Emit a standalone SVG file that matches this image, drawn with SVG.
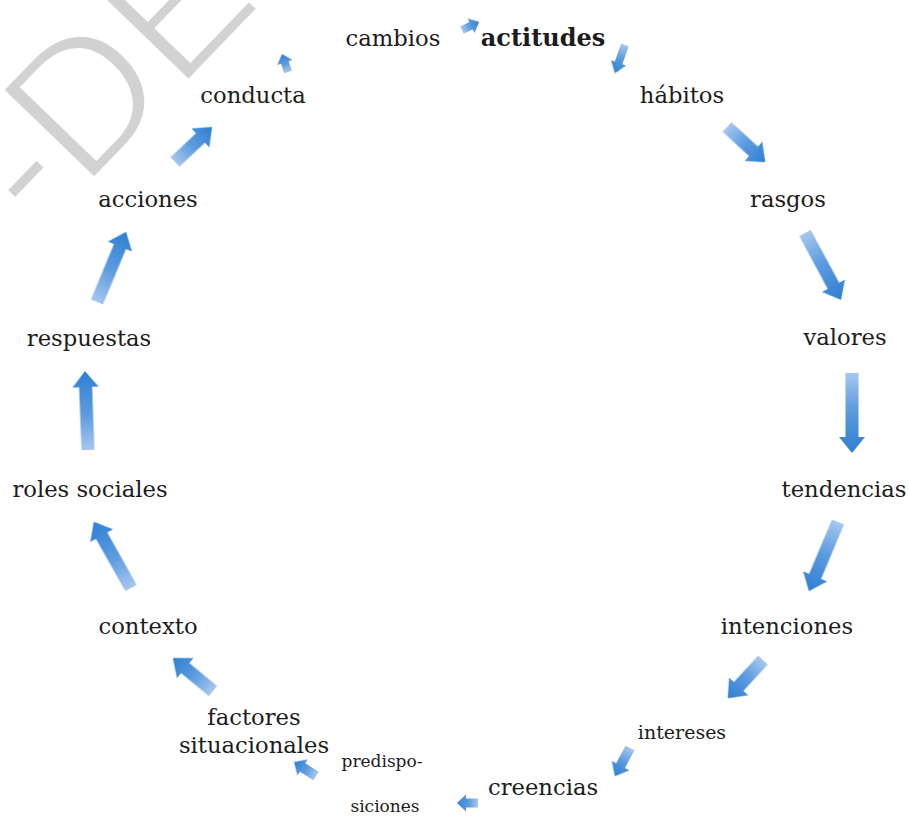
<svg xmlns="http://www.w3.org/2000/svg" width="909" height="819" viewBox="0 0 909 819">
<defs>
<style>
.lb{font-family:"DejaVu Serif","Liberation Serif",serif;font-size:22.7px;fill:#1c1c1c;text-anchor:middle}
.sm{font-size:19px}
.xs{font-size:17px}
.bd{font-weight:bold;font-size:24px}
.wm{font-family:"Liberation Sans",Arial,sans-serif;font-size:188px;fill:#d2d2d2;stroke:#ffffff;stroke-width:5px}
#conn path{fill:url(#ag);filter:url(#soft)}
</style>
<linearGradient id="ag" x1="0" y1="0" x2="1" y2="0">
<stop offset="0" stop-color="#a6c7ee"/>
<stop offset="0.45" stop-color="#5d9cdf"/>
<stop offset="1" stop-color="#2e7fd3"/>
</linearGradient>
<filter id="soft" x="-20%" y="-20%" width="140%" height="140%"><feGaussianBlur stdDeviation="0.7"/></filter>
</defs>
<rect width="909" height="819" fill="#ffffff"/>
<text class="wm" transform="translate(40,236) rotate(-46)">-DE</text>
<g id="conn">
<path transform="translate(288,72) rotate(-108.4)" d="M0,-4H10V-8L19,0L10,8V4H0Z"/>
<path transform="translate(462,30) rotate(-25.2)" d="M0,-4H10V-8L19,0L10,8V4H0Z"/>
<path transform="translate(625,45) rotate(109.7)" d="M0,-4H19V-8L30,0L19,8V4H0Z"/>
<path transform="translate(727,127) rotate(42.6)" d="M0,-6.5H36V-13L52,0L36,13V6.5H0Z"/>
<path transform="translate(805,233) rotate(61.7)" d="M0,-6.5H60V-13L76,0L60,13V6.5H0Z"/>
<path transform="translate(852,373) rotate(90)" d="M0,-6.5H64V-13L80,0L64,13V6.5H0Z"/>
<path transform="translate(838,522) rotate(112.8)" d="M0,-6.5H59V-13L75,0L59,13V6.5H0Z"/>
<path transform="translate(763,660) rotate(132.6)" d="M0,-6.5H36V-13L52,0L36,13V6.5H0Z"/>
<path transform="translate(630,748) rotate(118.2)" d="M0,-5H20V-10L32,0L20,10V5H0Z"/>
<path transform="translate(478,803) rotate(180)" d="M0,-4.5H12V-8.5L21,0L12,8.5V4.5H0Z"/>
<path transform="translate(316,776) rotate(-147.5)" d="M0,-5H16V-9.5L26,0L16,9.5V5H0Z"/>
<path transform="translate(213,691) rotate(-140.5)" d="M0,-6.5H36V-13L52,0L36,13V6.5H0Z"/>
<path transform="translate(131,588) rotate(-119.3)" d="M0,-6.5H60V-13L76,0L60,13V6.5H0Z"/>
<path transform="translate(88,450) rotate(-92.2)" d="M0,-6.5H63V-13L79,0L63,13V6.5H0Z"/>
<path transform="translate(97,302) rotate(-67.5)" d="M0,-6.5H60V-13L76,0L60,13V6.5H0Z"/>
<path transform="translate(175,162) rotate(-43.4)" d="M0,-6.5H35V-13L51,0L35,13V6.5H0Z"/>
</g>
<g id="cambios"><text class="lb" x="393" y="46">cambios</text></g>
<g id="actitudes"><text class="lb bd" x="543" y="46">actitudes</text></g>
<g id="habitos"><text class="lb" x="682" y="103">hábitos</text></g>
<g id="rasgos"><text class="lb" x="788" y="207">rasgos</text></g>
<g id="valores"><text class="lb" x="845" y="345">valores</text></g>
<g id="tendencias"><text class="lb" x="844" y="497">tendencias</text></g>
<g id="intenciones"><text class="lb" x="787" y="634">intenciones</text></g>
<g id="intereses"><text class="lb sm" x="682" y="739">intereses</text></g>
<g id="creencias"><text class="lb" x="543" y="795">creencias</text></g>
<g id="predisposiciones"><text class="lb xs" x="382" y="767">predispo-</text><text class="lb xs" x="385" y="812">siciones</text></g>
<g id="factores"><text class="lb" x="254" y="725">factores</text><text class="lb" x="254" y="753">situacionales</text></g>
<g id="contexto"><text class="lb" x="148" y="634">contexto</text></g>
<g id="roles"><text class="lb" x="90" y="497">roles sociales</text></g>
<g id="respuestas"><text class="lb" x="89" y="346">respuestas</text></g>
<g id="acciones"><text class="lb" x="148" y="207">acciones</text></g>
<g id="conducta"><text class="lb" x="253" y="103">conducta</text></g>
</svg>
